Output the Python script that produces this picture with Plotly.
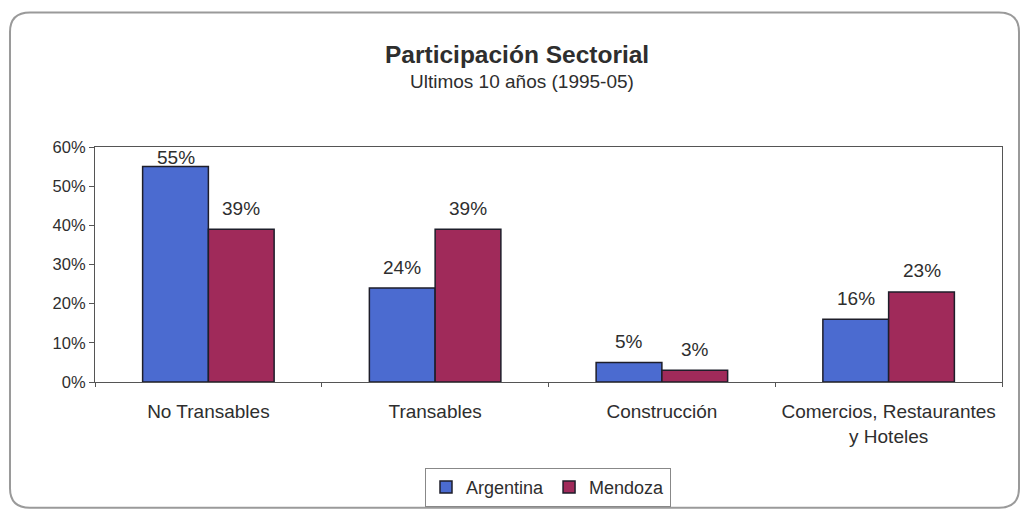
import plotly.graph_objects as go

categories = ["No Transables", "Transables", "Construcción", "Comercios, Restaurantes<br>y Hoteles"]
argentina = [0.55, 0.24, 0.05, 0.16]
mendoza = [0.39, 0.39, 0.03, 0.23]
series_names = ["Argentina", "Mendoza"]

W, H = 1023, 519
L, R, T, B = 95, 1002, 147, 388  # plot area in pixels
pw, ph = R - L, B - T
YMAX = 0.6
BARGAP = 0.42

def px(x):
    return (x - L) / pw

def py(y):
    return (B - y) / ph

def rounded_path(x0, y0, x1, y1, r):
    def P(x, y):
        return f"{px(x):.5f},{py(y):.5f}"
    return (f"M {P(x0 + r, y0)} L {P(x1 - r, y0)} Q {P(x1, y0)} {P(x1, y0 + r)} "
            f"L {P(x1, y1 - r)} Q {P(x1, y1)} {P(x1 - r, y1)} L {P(x0 + r, y1)} "
            f"Q {P(x0, y1)} {P(x0, y1 - r)} L {P(x0, y0 + r)} Q {P(x0, y0)} {P(x0 + r, y0)} Z")

font = "Liberation Sans, Arial, sans-serif"
txt = "#2e2e2e"

fig = go.Figure()
fig.add_trace(go.Bar(
    x=categories, y=argentina, name=series_names[0],
    marker=dict(color="#4b6bd0", line=dict(color="#1e1e2a", width=1.5)),
))
fig.add_trace(go.Bar(
    x=categories, y=mendoza, name=series_names[1],
    marker=dict(color="#a02a5a", line=dict(color="#1e1e2a", width=1.5)),
))

# data labels above each bar, via the axis scales
cat_w = pw / len(categories)
bar_w = cat_w * (1 - BARGAP) / 2
annotations = []
for series, sign in ((argentina, -1), (mendoza, 1)):
    for c, v in zip(categories, series):
        room = (YMAX - v) / YMAX * ph
        annotations.append(dict(
            x=c, y=v, xref="x", yref="y", text=f"{v:.0%}", showarrow=False,
            xanchor="center", yanchor="middle", xshift=sign * bar_w / 2,
            yshift=min(21, room - 11), font=dict(size=19, color=txt, family=font)))

annotations += [
    dict(text="<b>Participación Sectorial</b>", xref="paper", yref="paper",
         x=px(517), y=py(52), xanchor="center", yanchor="middle", showarrow=False,
         font=dict(size=24.5, color=txt)),
    dict(text="Ultimos 10 años (1995-05)", xref="paper", yref="paper",
         x=px(522), y=py(80), xanchor="center", yanchor="middle", showarrow=False,
         font=dict(size=19, color=txt)),
]

fig.update_layout(
    width=W, height=H,
    margin=dict(l=L, r=W - R, t=T, b=H - B, pad=0),
    paper_bgcolor="white", plot_bgcolor="white",
    barmode="group", bargap=BARGAP, bargroupgap=0,
    font=dict(family=font, color=txt, size=17),
    showlegend=True,
    legend=dict(orientation="h", x=px(548), xanchor="center", y=py(496), yanchor="middle",
                bordercolor="#888888", borderwidth=1, font=dict(size=18, color=txt),
                itemwidth=30, tracegroupgap=0),
    xaxis=dict(showline=True, linecolor="#555555", linewidth=1.2, mirror=True,
               ticks="outside", tickson="boundaries", ticklen=4, tickcolor="#555555",
               ticklabelstandoff=12, tickfont=dict(size=19, color=txt)),
    yaxis=dict(range=[0, YMAX], dtick=0.1, tickformat=".0%", showgrid=False, zeroline=False,
               showline=True, linecolor="#555555", linewidth=1.2, mirror=True,
               ticks="outside", ticklen=5, tickcolor="#555555",
               tickfont=dict(size=16.5, color=txt)),
    shapes=[dict(type="path", xref="paper", yref="paper",
                 path=rounded_path(10, 9, 1019, 517, 20),
                 line=dict(color="#9a9a9a", width=2), fillcolor="rgba(0,0,0,0)", layer="below")],
    annotations=annotations,
)

fig.write_html("out.html", config={"displayModeBar": False},
               post_script="document.body.style.margin='0';document.body.style.overflow='hidden';")
